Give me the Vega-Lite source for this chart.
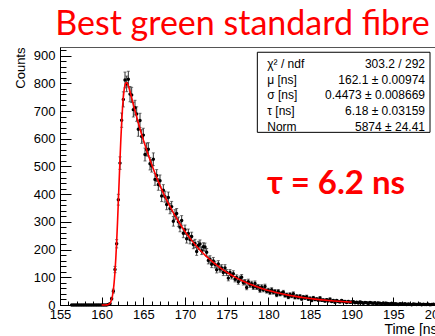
{
  "$schema": "https://vega.github.io/schema/vega-lite/v6.json",
  "width": 375,
  "height": 258,
  "autosize": {"type": "none"},
  "padding": {"left": 60, "top": 47, "right": 0, "bottom": 31},
  "background": "white",
  "title": {
    "text": "Best green standard fibre",
    "color": "#ff0000",
    "font": "Lato",
    "fontSize": 34,
    "fontWeight": "normal",
    "anchor": "middle",
    "frame": "group",
    "baseline": "alphabetic",
    "offset": -22,
    "dx": -5
  },
  "config": {
    "view": {"stroke": "#555", "strokeWidth": 1},
    "axis": {
      "grid": false,
      "domainColor": "black",
      "domainWidth": 1,
      "tickColor": "black",
      "tickWidth": 1,
      "labelColor": "black",
      "titleColor": "black",
      "labelFont": "Liberation Sans",
      "titleFont": "Liberation Sans",
      "labelFontSize": 13,
      "titleFontSize": 13,
      "titleFontWeight": "normal",
      "labelOverlap": false,
      "labelFlush": false,
      "labelBound": false
    }
  },
  "resolve": {"axis": {"x": "independent", "y": "independent"}},
  "datasets": {
    "hist": [
      {"t": 156.4, "n": 0, "e": 0}, {"t": 156.6, "n": 0, "e": 0}, {"t": 156.8, "n": 0, "e": 0},
      {"t": 157.0, "n": 0, "e": 0}, {"t": 157.2, "n": 0, "e": 0}, {"t": 157.4, "n": 0, "e": 0},
      {"t": 157.6, "n": 0, "e": 0}, {"t": 157.8, "n": 0, "e": 0}, {"t": 158.0, "n": 0, "e": 0},
      {"t": 158.2, "n": 0, "e": 0}, {"t": 158.4, "n": 0, "e": 0}, {"t": 158.6, "n": 0, "e": 0},
      {"t": 158.8, "n": 0, "e": 0}, {"t": 159.0, "n": 0, "e": 0}, {"t": 159.2, "n": 0, "e": 0},
      {"t": 159.4, "n": 0, "e": 0}, {"t": 159.6, "n": 0, "e": 0}, {"t": 159.8, "n": 0, "e": 0},
      {"t": 160.0, "n": 0, "e": 0}, {"t": 160.2, "n": 0, "e": 0}, {"t": 160.4, "n": 0, "e": 0},
      {"t": 160.6, "n": 0, "e": 0}, {"t": 160.8, "n": 2, "e": 1.4}, {"t": 161.0, "n": 5, "e": 2.2},
      {"t": 161.2, "n": 23, "e": 4.8}, {"t": 161.4, "n": 50, "e": 7.1}, {"t": 161.6, "n": 128, "e": 11.3},
      {"t": 161.8, "n": 221, "e": 14.9}, {"t": 162.0, "n": 380, "e": 19.5}, {"t": 162.2, "n": 512, "e": 22.6},
      {"t": 162.4, "n": 667, "e": 25.8}, {"t": 162.6, "n": 742, "e": 27.2}, {"t": 162.8, "n": 812, "e": 28.5},
      {"t": 163.0, "n": 798, "e": 28.2}, {"t": 163.2, "n": 815, "e": 28.5}, {"t": 163.4, "n": 761, "e": 27.6},
      {"t": 163.6, "n": 758, "e": 27.5}, {"t": 163.8, "n": 705, "e": 26.6}, {"t": 164.0, "n": 712, "e": 26.7},
      {"t": 164.2, "n": 689, "e": 26.2}, {"t": 164.4, "n": 634, "e": 25.2}, {"t": 164.6, "n": 666, "e": 25.8},
      {"t": 164.8, "n": 608, "e": 24.7}, {"t": 165.0, "n": 613, "e": 24.8}, {"t": 165.2, "n": 543, "e": 23.3},
      {"t": 165.4, "n": 561, "e": 23.7}, {"t": 165.6, "n": 562, "e": 23.7}, {"t": 165.8, "n": 510, "e": 22.6},
      {"t": 166.0, "n": 502, "e": 22.4}, {"t": 166.2, "n": 526, "e": 22.9}, {"t": 166.4, "n": 453, "e": 21.3},
      {"t": 166.6, "n": 467, "e": 21.6}, {"t": 166.8, "n": 435, "e": 20.9}, {"t": 167.0, "n": 448, "e": 21.2},
      {"t": 167.2, "n": 393, "e": 19.8}, {"t": 167.4, "n": 414, "e": 20.3}, {"t": 167.6, "n": 391, "e": 19.8},
      {"t": 167.8, "n": 363, "e": 19.1}, {"t": 168.0, "n": 388, "e": 19.7}, {"t": 168.2, "n": 348, "e": 18.7},
      {"t": 168.4, "n": 355, "e": 18.8}, {"t": 168.6, "n": 302, "e": 17.4}, {"t": 168.8, "n": 326, "e": 18.1},
      {"t": 169.0, "n": 330, "e": 18.2}, {"t": 169.2, "n": 300, "e": 17.3}, {"t": 169.4, "n": 281, "e": 16.8},
      {"t": 169.6, "n": 305, "e": 17.5}, {"t": 169.8, "n": 259, "e": 16.1}, {"t": 170.0, "n": 272, "e": 16.5},
      {"t": 170.2, "n": 239, "e": 15.5}, {"t": 170.4, "n": 258, "e": 16.1}, {"t": 170.6, "n": 236, "e": 15.4},
      {"t": 170.8, "n": 247, "e": 15.7}, {"t": 171.0, "n": 218, "e": 14.8}, {"t": 171.2, "n": 222, "e": 14.9},
      {"t": 171.4, "n": 193, "e": 13.9}, {"t": 171.6, "n": 215, "e": 14.7}, {"t": 171.8, "n": 220, "e": 14.8},
      {"t": 172.0, "n": 196, "e": 14.0}, {"t": 172.2, "n": 210, "e": 14.5}, {"t": 172.4, "n": 209, "e": 14.5},
      {"t": 172.6, "n": 190, "e": 13.8}, {"t": 172.8, "n": 161, "e": 12.7}, {"t": 173.0, "n": 165, "e": 12.8},
      {"t": 173.2, "n": 147, "e": 12.1}, {"t": 173.4, "n": 159, "e": 12.6}, {"t": 173.6, "n": 146, "e": 12.1},
      {"t": 173.8, "n": 127, "e": 11.3}, {"t": 174.0, "n": 148, "e": 12.2}, {"t": 174.2, "n": 130, "e": 11.4},
      {"t": 174.4, "n": 134, "e": 11.6}, {"t": 174.6, "n": 117, "e": 10.8}, {"t": 174.8, "n": 134, "e": 11.6},
      {"t": 175.0, "n": 117, "e": 10.8}, {"t": 175.2, "n": 97, "e": 9.8}, {"t": 175.4, "n": 117, "e": 10.8},
      {"t": 175.6, "n": 104, "e": 10.2}, {"t": 175.8, "n": 113, "e": 10.6}, {"t": 176.0, "n": 93, "e": 9.6},
      {"t": 176.2, "n": 99, "e": 9.9}, {"t": 176.4, "n": 84, "e": 9.2}, {"t": 176.6, "n": 95, "e": 9.7},
      {"t": 176.8, "n": 100, "e": 10.0}, {"t": 177.0, "n": 81, "e": 9.0}, {"t": 177.2, "n": 83, "e": 9.1},
      {"t": 177.4, "n": 63, "e": 7.9}, {"t": 177.6, "n": 84, "e": 9.2}, {"t": 177.8, "n": 72, "e": 8.5},
      {"t": 178.0, "n": 77, "e": 8.8}, {"t": 178.2, "n": 64, "e": 8.0}, {"t": 178.4, "n": 78, "e": 8.8},
      {"t": 178.6, "n": 64, "e": 8.0}, {"t": 178.8, "n": 66, "e": 8.1}, {"t": 179.0, "n": 53, "e": 7.3},
      {"t": 179.2, "n": 65, "e": 8.1}, {"t": 179.4, "n": 55, "e": 7.4}, {"t": 179.6, "n": 67, "e": 8.2},
      {"t": 179.8, "n": 50, "e": 7.1}, {"t": 180.0, "n": 53, "e": 7.3}, {"t": 180.2, "n": 45, "e": 6.7},
      {"t": 180.4, "n": 55, "e": 7.4}, {"t": 180.6, "n": 46, "e": 6.8}, {"t": 180.8, "n": 49, "e": 7.0},
      {"t": 181.0, "n": 36, "e": 6.0}, {"t": 181.2, "n": 49, "e": 7.0}, {"t": 181.4, "n": 39, "e": 6.2},
      {"t": 181.6, "n": 42, "e": 6.5}, {"t": 181.8, "n": 46, "e": 6.8}, {"t": 182.0, "n": 34, "e": 5.8},
      {"t": 182.2, "n": 37, "e": 6.1}, {"t": 182.4, "n": 28, "e": 5.3}, {"t": 182.6, "n": 38, "e": 6.2},
      {"t": 182.8, "n": 32, "e": 5.7}, {"t": 183.0, "n": 41, "e": 6.4}, {"t": 183.2, "n": 27, "e": 5.2},
      {"t": 183.4, "n": 32, "e": 5.7}, {"t": 183.6, "n": 27, "e": 5.2}, {"t": 183.8, "n": 32, "e": 5.7},
      {"t": 184.0, "n": 22, "e": 4.7}, {"t": 184.2, "n": 29, "e": 5.4}, {"t": 184.4, "n": 25, "e": 5.0},
      {"t": 184.6, "n": 30, "e": 5.5}, {"t": 184.8, "n": 21, "e": 4.6}, {"t": 185.0, "n": 24, "e": 4.9},
      {"t": 185.2, "n": 16, "e": 4.0}, {"t": 185.4, "n": 26, "e": 5.1}, {"t": 185.6, "n": 20, "e": 4.5},
      {"t": 185.8, "n": 22, "e": 4.7}, {"t": 186.0, "n": 17, "e": 4.1}, {"t": 186.2, "n": 25, "e": 5.0},
      {"t": 186.4, "n": 17, "e": 4.1}, {"t": 186.6, "n": 18, "e": 4.2}, {"t": 186.8, "n": 14, "e": 3.7},
      {"t": 187.0, "n": 19, "e": 4.4}, {"t": 187.2, "n": 15, "e": 3.9}, {"t": 187.4, "n": 21, "e": 4.6},
      {"t": 187.6, "n": 13, "e": 3.6}, {"t": 187.8, "n": 16, "e": 4.0}, {"t": 188.0, "n": 10, "e": 3.2},
      {"t": 188.2, "n": 16, "e": 4.0}, {"t": 188.4, "n": 13, "e": 3.6}, {"t": 188.6, "n": 11, "e": 3.3},
      {"t": 188.8, "n": 16, "e": 4.0}, {"t": 189.0, "n": 12, "e": 3.5}, {"t": 189.2, "n": 13, "e": 3.6},
      {"t": 189.4, "n": 9, "e": 3.0}, {"t": 189.6, "n": 13, "e": 3.6}, {"t": 189.8, "n": 10, "e": 3.2},
      {"t": 190.0, "n": 11, "e": 3.3}, {"t": 190.2, "n": 12, "e": 3.5}, {"t": 190.4, "n": 8, "e": 2.8},
      {"t": 190.6, "n": 10, "e": 3.2}, {"t": 190.8, "n": 7, "e": 2.6}, {"t": 191.0, "n": 11, "e": 3.3},
      {"t": 191.2, "n": 9, "e": 3.0}, {"t": 191.4, "n": 6, "e": 2.4}, {"t": 191.6, "n": 9, "e": 3.0},
      {"t": 191.8, "n": 8, "e": 2.8}, {"t": 192.0, "n": 5, "e": 2.2}, {"t": 192.2, "n": 9, "e": 3.0},
      {"t": 192.4, "n": 7, "e": 2.6}, {"t": 192.6, "n": 6, "e": 2.4}, {"t": 192.8, "n": 8, "e": 2.8},
      {"t": 193.0, "n": 4, "e": 2.0}, {"t": 193.2, "n": 7, "e": 2.6}, {"t": 193.4, "n": 6, "e": 2.4},
      {"t": 193.6, "n": 5, "e": 2.2}, {"t": 193.8, "n": 7, "e": 2.6}, {"t": 194.0, "n": 3, "e": 1.7},
      {"t": 194.2, "n": 6, "e": 2.4}, {"t": 194.4, "n": 5, "e": 2.2}, {"t": 194.6, "n": 4, "e": 2.0},
      {"t": 194.8, "n": 6, "e": 2.4}, {"t": 195.0, "n": 3, "e": 1.7}, {"t": 195.2, "n": 5, "e": 2.2},
      {"t": 195.4, "n": 4, "e": 2.0}, {"t": 195.6, "n": 2, "e": 1.4}, {"t": 195.8, "n": 5, "e": 2.2},
      {"t": 196.0, "n": 4, "e": 2.0}, {"t": 196.2, "n": 3, "e": 1.7}, {"t": 196.4, "n": 5, "e": 2.2},
      {"t": 196.6, "n": 2, "e": 1.4}, {"t": 196.8, "n": 4, "e": 2.0}, {"t": 197.0, "n": 3, "e": 1.7},
      {"t": 197.2, "n": 1, "e": 1.0}, {"t": 197.4, "n": 4, "e": 2.0}, {"t": 197.6, "n": 3, "e": 1.7},
      {"t": 197.8, "n": 2, "e": 1.4}, {"t": 198.0, "n": 3, "e": 1.7}, {"t": 198.2, "n": 4, "e": 2.0},
      {"t": 198.4, "n": 1, "e": 1.0}, {"t": 198.6, "n": 3, "e": 1.7}, {"t": 198.8, "n": 2, "e": 1.4},
      {"t": 199.0, "n": 2, "e": 1.4}, {"t": 199.2, "n": 3, "e": 1.7}, {"t": 199.4, "n": 1, "e": 1.0},
      {"t": 199.6, "n": 2, "e": 1.4}, {"t": 199.8, "n": 3, "e": 1.7}
    ],
    "fit": [
      {"t": 160.0, "f": 0}, {"t": 160.2, "f": 0.01}, {"t": 160.4, "f": 0.07}, {"t": 160.6, "f": 0.37},
      {"t": 160.8, "f": 1.71}, {"t": 161.0, "f": 6.48}, {"t": 161.1, "f": 11.8}, {"t": 161.2, "f": 20.5},
      {"t": 161.3, "f": 34.1}, {"t": 161.4, "f": 54.2}, {"t": 161.5, "f": 82.7}, {"t": 161.6, "f": 121.1},
      {"t": 161.7, "f": 169.8}, {"t": 161.8, "f": 229.1}, {"t": 161.9, "f": 297.1}, {"t": 162.0, "f": 371.9},
      {"t": 162.1, "f": 449.3}, {"t": 162.2, "f": 525.5}, {"t": 162.3, "f": 596.4}, {"t": 162.4, "f": 658.5},
      {"t": 162.5, "f": 709.8}, {"t": 162.6, "f": 749.0}, {"t": 162.7, "f": 776.5}, {"t": 162.8, "f": 793.2},
      {"t": 162.9, "f": 801.2}, {"t": 163.0, "f": 802.3}, {"t": 163.1, "f": 798.2}, {"t": 163.2, "f": 790.7},
      {"t": 163.3, "f": 781.2}, {"t": 163.4, "f": 770.3}, {"t": 163.6, "f": 747.2}, {"t": 163.8, "f": 723.7},
      {"t": 164.0, "f": 700.7}, {"t": 164.4, "f": 656.8}, {"t": 164.8, "f": 615.6}, {"t": 165.2, "f": 577.0},
      {"t": 165.6, "f": 540.9}, {"t": 166.0, "f": 507.0}, {"t": 166.4, "f": 475.2}, {"t": 166.8, "f": 445.4},
      {"t": 167.2, "f": 417.5}, {"t": 167.6, "f": 391.3}, {"t": 168.0, "f": 366.8}, {"t": 168.4, "f": 343.8},
      {"t": 168.8, "f": 322.3}, {"t": 169.2, "f": 302.1}, {"t": 169.6, "f": 283.2}, {"t": 170.0, "f": 265.4},
      {"t": 170.4, "f": 248.8}, {"t": 170.8, "f": 233.2}, {"t": 171.2, "f": 218.6}, {"t": 171.6, "f": 204.9},
      {"t": 172.0, "f": 192.1}, {"t": 172.4, "f": 180.0}, {"t": 172.8, "f": 168.7}, {"t": 173.2, "f": 158.2},
      {"t": 173.6, "f": 148.2}, {"t": 174.0, "f": 139.0}, {"t": 174.4, "f": 130.2}, {"t": 174.8, "f": 122.1},
      {"t": 175.2, "f": 114.4}, {"t": 175.6, "f": 107.3}, {"t": 176.0, "f": 100.5}, {"t": 176.4, "f": 94.2},
      {"t": 176.8, "f": 88.3}, {"t": 177.2, "f": 82.8}, {"t": 177.6, "f": 77.6}, {"t": 178.0, "f": 72.7},
      {"t": 178.4, "f": 68.2}, {"t": 178.8, "f": 63.9}, {"t": 179.2, "f": 59.9}, {"t": 179.6, "f": 56.1},
      {"t": 180.0, "f": 52.6}, {"t": 180.4, "f": 49.3}, {"t": 180.8, "f": 46.2}, {"t": 181.2, "f": 43.3},
      {"t": 181.6, "f": 40.6}, {"t": 182.0, "f": 38.0}, {"t": 182.4, "f": 35.6}, {"t": 182.8, "f": 33.4},
      {"t": 183.2, "f": 31.3}, {"t": 183.6, "f": 29.3}, {"t": 184.0, "f": 27.5}, {"t": 184.4, "f": 25.8},
      {"t": 184.8, "f": 24.1}, {"t": 185.2, "f": 22.6}, {"t": 185.6, "f": 21.2}, {"t": 186.0, "f": 19.9},
      {"t": 186.4, "f": 18.6}, {"t": 186.8, "f": 17.5}, {"t": 187.2, "f": 16.4}, {"t": 187.6, "f": 15.3},
      {"t": 188.0, "f": 14.4}, {"t": 188.4, "f": 13.5}, {"t": 188.8, "f": 12.6}, {"t": 189.2, "f": 11.8},
      {"t": 189.6, "f": 11.1}, {"t": 190.0, "f": 10.4}
    ],
    "one": [{}]
  },
  "layer": [
    {
      "data": {"name": "hist"},
      "mark": {"type": "errorbar", "thickness": 1, "color": "#333", "ticks": {"size": 3, "color": "#333"}},
      "encoding": {
        "x": {"field": "t", "type": "quantitative", "scale": {"domain": [155, 200], "nice": false, "zero": false}, "axis": null},
        "y": {"field": "n", "type": "quantitative", "scale": {"domain": [0, 931], "nice": false, "zero": false}, "axis": null},
        "yError": {"field": "e"}
      }
    },
    {
      "data": {"name": "hist"},
      "mark": {"type": "point", "filled": true, "size": 12, "color": "black", "opacity": 1},
      "encoding": {
        "x": {
          "field": "t",
          "type": "quantitative",
          "axis": {
            "orient": "bottom",
            "title": "Time [ns]",
            "titleFontSize": 14,
            "values": [155, 160, 165, 170, 175, 180, 185, 190, 195, 200],
            "tickSize": -8,
            "labelPadding": 11,
            "labelBaseline": "top",
            "titleAnchor": "end",
            "titleAlign": "right",
            "titleBaseline": "alphabetic",
            "titleX": 381,
            "titleY": 28
          }
        },
        "y": {
          "field": "n",
          "type": "quantitative",
          "axis": {
            "orient": "left",
            "title": "Counts",
            "values": [0, 100, 200, 300, 400, 500, 600, 700, 800, 900],
            "tickSize": -11,
            "labelPadding": 16,
            "titleAnchor": "end",
            "titlePadding": 6
          }
        }
      }
    },
    {
      "data": {"name": "fit"},
      "mark": {"type": "line", "color": "#ff0000", "strokeWidth": 1.6, "interpolate": "monotone"},
      "encoding": {
        "x": {
          "field": "t",
          "type": "quantitative",
          "axis": {
            "orient": "bottom",
            "title": null,
            "labels": false,
            "domain": false,
            "tickSize": -4,
            "values": [156, 157, 158, 159, 161, 162, 163, 164, 166, 167, 168, 169, 171, 172, 173, 174, 176, 177, 178, 179, 181, 182, 183, 184, 186, 187, 188, 189, 191, 192, 193, 194, 196, 197, 198, 199]
          }
        },
        "y": {
          "field": "f",
          "type": "quantitative",
          "axis": {
            "orient": "left",
            "title": null,
            "labels": false,
            "domain": false,
            "tickSize": -6,
            "values": [20, 40, 60, 80, 120, 140, 160, 180, 220, 240, 260, 280, 320, 340, 360, 380, 420, 440, 460, 480, 520, 540, 560, 580, 620, 640, 660, 680, 720, 740, 760, 780, 820, 840, 860, 880, 920]
          }
        }
      }
    },
    {
      "data": {"name": "one"},
      "mark": {"type": "rect", "fill": "white", "stroke": "black", "strokeWidth": 1},
      "encoding": {
        "x": {"datum": 178.68, "type": "quantitative", "axis": null},
        "x2": {"datum": 199.4},
        "y": {"datum": 912, "type": "quantitative", "axis": null},
        "y2": {"datum": 623}
      }
    },
    {
      "data": {"name": "one"},
      "mark": {
        "type": "text",
        "font": "Liberation Sans",
        "fontSize": 12,
        "color": "black",
        "align": "left",
        "baseline": "middle",
        "lineHeight": 15.8,
        "text": ["χ² / ndf", "μ [ns]", "σ [ns]", "τ [ns]", "Norm"]
      },
      "encoding": {
        "x": {"datum": 179.87, "type": "quantitative", "axis": null},
        "y": {"datum": 870, "type": "quantitative", "axis": null}
      }
    },
    {
      "data": {"name": "one"},
      "mark": {
        "type": "text",
        "font": "Liberation Sans",
        "fontSize": 12,
        "color": "black",
        "align": "right",
        "baseline": "middle",
        "lineHeight": 15.8,
        "text": ["303.2 / 292", "162.1 ± 0.00974", "0.4473 ± 0.008669", "6.18 ± 0.03159", "5874 ± 24.41"]
      },
      "encoding": {
        "x": {"datum": 198.8, "type": "quantitative", "axis": null},
        "y": {"datum": 870, "type": "quantitative", "axis": null}
      }
    },
    {
      "data": {"name": "one"},
      "mark": {
        "type": "text",
        "font": "Lato",
        "fontSize": 33,
        "fontWeight": "bold",
        "color": "#ff0000",
        "align": "center",
        "baseline": "alphabetic",
        "text": "τ = 6.2 ns"
      },
      "encoding": {
        "x": {"datum": 188.12, "type": "quantitative", "axis": null},
        "y": {"datum": 402, "type": "quantitative", "axis": null}
      }
    }
  ]
}
